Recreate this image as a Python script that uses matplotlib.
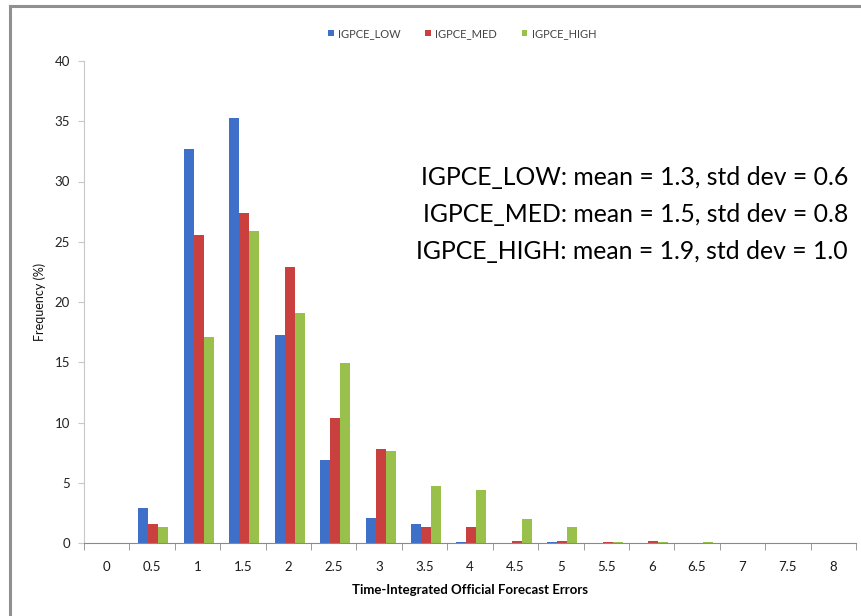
import matplotlib
matplotlib.use("Agg")
import matplotlib.pyplot as plt
import numpy as np
from matplotlib.lines import Line2D

# categories on the x axis
cats = ['0', '0.5', '1', '1.5', '2', '2.5', '3', '3.5', '4', '4.5', '5', '5.5',
        '6', '6.5', '7', '7.5', '8']

# frequency (%) per category
low = [0, 2.9, 32.7, 35.3, 17.3, 6.9, 2.1, 1.6, 0.1, 0, 0.05, 0, 0, 0, 0, 0, 0]
med = [0, 1.6, 25.6, 27.4, 22.9, 10.4, 7.8, 1.3, 1.3, 0.2, 0.2, 0.05, 0.15, 0, 0, 0, 0]
high = [0, 1.3, 17.1, 25.9, 19.1, 14.9, 7.6, 4.75, 4.4, 2.0, 1.3, 0.1, 0.1, 0.05, 0, 0, 0]

names = ['IGPCE_LOW', 'IGPCE_MED', 'IGPCE_HIGH']
stats_lines = ['IGPCE_LOW: mean = 1.3, std dev = 0.6',
               'IGPCE_MED: mean = 1.5, std dev = 0.8',
               'IGPCE_HIGH: mean = 1.9, std dev = 1.0']

colors = ['#3E6FC9', '#C9403F', '#98C04A']

W, H = 862, 616
fig = plt.figure(figsize=(W / 100, H / 100), dpi=100)
fig.patch.set_facecolor('white')

ax = fig.add_axes([84 / W, (H - 543) / H, (856 - 84) / W, (543 - 61) / H])

x = np.arange(len(cats))
bw = 0.22
for k, (vals, c, n) in enumerate(zip([low, med, high], colors, names)):
    ax.bar(x + (k - 1) * bw + 0.03, vals, width=bw, color=c, label=n, linewidth=0)

ax.set_xlim(-0.5, len(cats) - 0.5)
ax.set_ylim(0, 40)
ax.set_yticks(np.arange(0, 41, 5))
ax.set_xticks(x)
ax.set_xticklabels(cats)
ax.set_xticks(np.arange(-0.5, len(cats), 1), minor=True)

for s in ['top', 'right']:
    ax.spines[s].set_visible(False)
ax.spines['left'].set_color('#c8c8c8')
ax.spines['bottom'].set_color('#8a8a8a')
ax.tick_params(axis='x', which='major', length=0, pad=13, labelsize=9.5, labelcolor='#1a1a1a')
ax.tick_params(axis='x', which='minor', length=5, color='#8a8a8a', direction='out')
ax.tick_params(axis='y', length=4, color='#c8c8c8', pad=6, labelsize=9.5, labelcolor='#222222')
for lab in ax.get_xticklabels() + ax.get_yticklabels():
    lab.set_family('Lato')

ax.set_xlabel('Time-Integrated Official Forecast Errors', fontsize=9.5,
              fontweight='bold', family='Lato', labelpad=8)
ax.set_ylabel('Frequency (%)', fontsize=9, family='Lato', labelpad=6, color='#111111')

ax.legend(loc='upper center', bbox_to_anchor=(0.49, 1.09), ncol=3, frameon=False,
          prop={'family': 'Lato', 'size': 8}, handlelength=0.5, handleheight=0.5,
          handletextpad=0.4, columnspacing=2.2, labelcolor='#444444')

for i, line in enumerate(stats_lines):
    fig.text(848 / W, 1 - (185 + 37 * i) / H, line, ha='right', va='baseline',
             fontsize=17.8, family='Lato', color='black')

# chart border like an exported spreadsheet chart
fig.add_artist(Line2D([10 / W, 10 / W], [0, 1 - 6 / H], color='#909090', lw=2.2,
                      transform=fig.transFigure))
fig.add_artist(Line2D([10 / W, 1], [1 - 6 / H, 1 - 6 / H], color='#909090', lw=2.2,
                      transform=fig.transFigure))

fig.savefig('out.png', dpi=100)
